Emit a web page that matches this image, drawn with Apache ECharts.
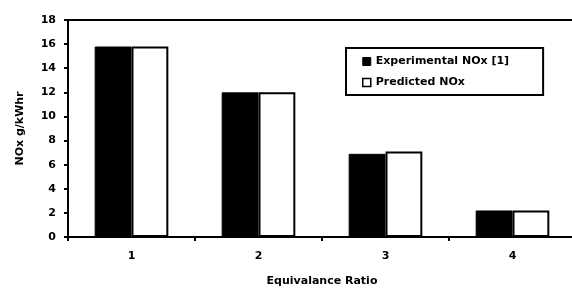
<!DOCTYPE html>
<html>
<head>
<meta charset="utf-8">
<script src="https://cdn.jsdelivr.net/npm/echarts@6/dist/echarts.min.js"></script>
<style>
  html, body { margin: 0; padding: 0; background: #fff; }
  #chart { width: 572px; height: 288px; }
</style>
</head>
<body>
<div id="chart"></div>
<script>
// 数据
var categories = ['1', '2', '3', '4']
var experimentalNOx = [15.8, 12.0, 6.9, 2.2]
var predictedNOx = [15.8, 12.0, 7.1, 2.2]
var yTicks = { min: 0, max: 18, interval: 2 }

var labelFont = {
  color: '#000',
  fontFamily: 'DejaVu Sans',
  fontWeight: 'bold',
  fontSize: 11
}

var myChart = echarts.init(document.getElementById('chart'))
myChart.setOption({
  animation: false,
  backgroundColor: '#fff',
  grid: {
    left: 68,
    top: 20,
    bottom: 51,
    width: 508,
    outerBoundsMode: 'none',
    containLabel: false,
    show: true,
    borderColor: '#000',
    borderWidth: 2
  },
  legend: {
    orient: 'vertical',
    left: 346,
    top: 48,
    padding: [8, 34, 7, 16],
    itemGap: 10,
    itemWidth: 8,
    itemHeight: 8,
    borderColor: '#000',
    borderWidth: 2,
    textStyle: labelFont,
    data: [
      { name: 'Experimental NOx [1]', icon: 'rect', itemStyle: { color: '#000', borderColor: '#000', borderWidth: 1 } },
      { name: 'Predicted NOx', icon: 'rect', itemStyle: { color: '#fff', borderColor: '#000', borderWidth: 1.5 } }
    ]
  },
  xAxis: {
    type: 'category',
    data: categories,
    name: 'Equivalance Ratio',
    nameLocation: 'middle',
    nameGap: 39,
    nameTextStyle: labelFont,
    axisLine: { lineStyle: { color: '#000', width: 2 } },
    axisTick: { show: true, length: 4, lineStyle: { color: '#000', width: 2 } },
    axisLabel: Object.assign({ margin: 14 }, labelFont),
    splitLine: { show: false }
  },
  yAxis: {
    type: 'value',
    min: yTicks.min,
    max: yTicks.max,
    interval: yTicks.interval,
    name: 'NOx g/kWhr',
    nameLocation: 'middle',
    nameGap: 42,
    nameTextStyle: labelFont,
    axisLine: { show: true, lineStyle: { color: '#000', width: 2 } },
    axisTick: { show: true, length: 4, lineStyle: { color: '#000', width: 2 } },
    axisLabel: Object.assign({ margin: 12 }, labelFont),
    splitLine: { show: false }
  },
  series: [
    {
      name: 'Experimental NOx [1]',
      type: 'bar',
      data: experimentalNOx,
      barGap: '0%',
      barCategoryGap: '42%',
      itemStyle: { color: '#000', borderColor: '#000', borderWidth: 1 }
    },
    {
      name: 'Predicted NOx',
      type: 'bar',
      data: predictedNOx,
      itemStyle: { color: '#fff', borderColor: '#000', borderWidth: 2 }
    }
  ]
})
</script>
</body>
</html>
